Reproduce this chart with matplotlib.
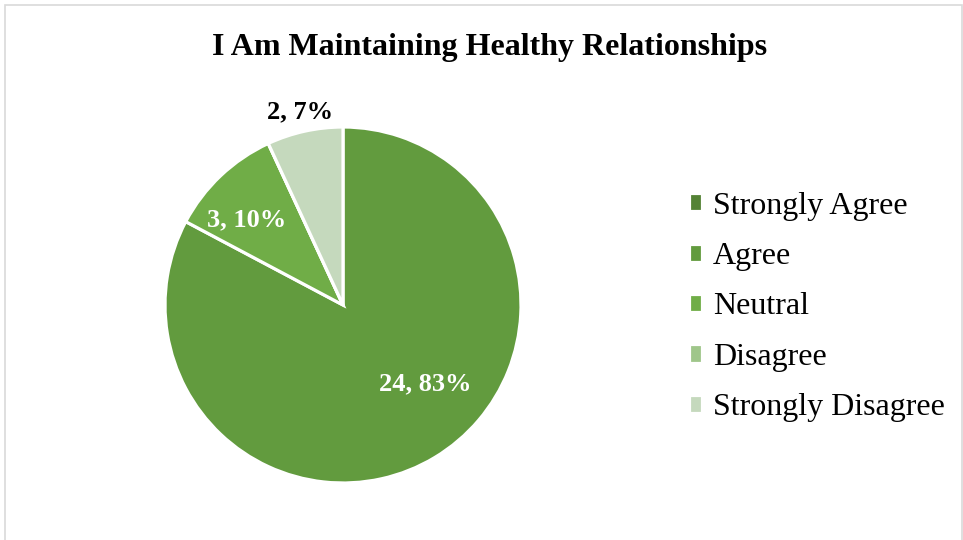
import matplotlib.pyplot as plt
from matplotlib.patches import Rectangle

categories = ['Strongly Agree', 'Agree', 'Neutral', 'Disagree', 'Strongly Disagree']
counts = [0, 24, 3, 0, 2]
percent_labels = ['0%', '83%', '10%', '0%', '7%']
colors = ['#548235', '#629b3e', '#70ad47', '#9fc68a', '#c5d9bd']

plt.rcParams['font.family'] = ['Liberation Serif', 'DejaVu Serif']

fig = plt.figure(figsize=(9.63, 5.4), dpi=100)
W, H = 963, 540

# chart border
fig.patches.append(Rectangle((5 / W, -0.01), (W - 6) / W, 1 - 5 / H + 0.01,
                             transform=fig.transFigure, fill=False,
                             edgecolor='#d9d9d9', linewidth=1.2))

cx, cy, r = 343, 305, 178
ax = fig.add_axes([(cx - r) / W, (H - cy - r) / H, 2 * r / W, 2 * r / H])
wedges, _ = ax.pie(counts, colors=colors, startangle=90, counterclock=False,
                   wedgeprops=dict(edgecolor='white', linewidth=2.3))
ax.set_xlim(-1, 1)
ax.set_ylim(-1, 1)
ax.set_aspect('equal')

# data label positions (in pie radius units) and text colour
label_pos = {1: ((0.46, -0.44), 'white'),
             2: ((-0.54, 0.48), 'white'),
             4: ((-0.24, 1.085), 'black')}
for i, ((lx, ly), c) in label_pos.items():
    ax.text(lx, ly, f'{counts[i]}, {percent_labels[i]}', ha='center', va='center',
            color=c, fontsize=19, fontweight='bold')

fig.text(490 / W, 1 - 47 / H, 'I Am Maintaining Healthy Relationships',
         ha='center', va='center', fontsize=23, fontweight='bold')

fig.legend(wedges, categories, loc='center left', bbox_to_anchor=(673 / W, 1 - 307 / H),
           frameon=False, fontsize=23, handlelength=0.42, handleheight=0.5,
           handletextpad=0.33, labelspacing=0.67, borderpad=0)

fig.savefig('out.png', dpi=100)
